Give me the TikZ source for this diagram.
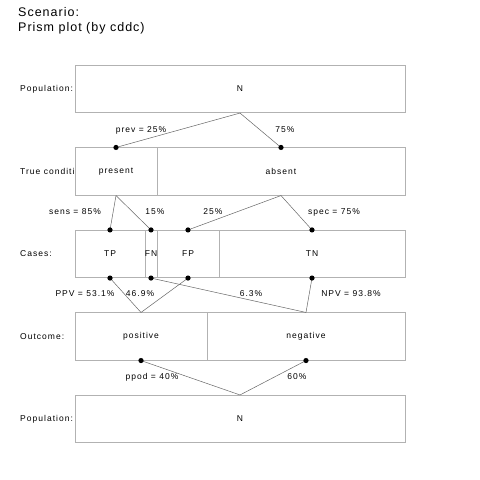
\documentclass[tikz,border=0pt]{standalone}
\usepackage{fontspec}
\newfontfamily\plotfont{Liberation Sans}[LetterSpace=12]
\newfontfamily\titlefont{Liberation Sans}[LetterSpace=8]

\tikzset{
    cell/.style={draw=gray!60, fill=white, line width=.6pt, inner sep=0pt,
        minimum height=47.5pt, font=\plotfont\fontsize{8.5}{10}\selectfont},
    rowlabel/.style={anchor=west, inner sep=0pt, font=\plotfont\fontsize{8.5}{10}\selectfont},
    prob/.style={inner sep=0pt, font=\plotfont\fontsize{8.5}{10}\selectfont},
    link/.style={gray!80!black, line width=.5pt},
    dot/.style={fill=black}
}

\begin{document}
\begin{tikzpicture}[x=1pt, y=-1pt]

    \useasboundingbox (0,0) rectangle (480,480);

    % Title
    \node[anchor=west, inner sep=0pt, font=\titlefont\fontsize{12.5}{14}\selectfont] (title1) at (18,12) {Scenario:};
    \node[anchor=west, inner sep=0pt, font=\titlefont\fontsize{12.5}{14}\selectfont] (title2) at (18,28) {Prism plot (by cddc)};

    % Row labels (drawn first, the boxes cover them)
    \node[rowlabel] (lab1) at (20,89) {Population:};
    \node[rowlabel] (lab2) at (20,171.5) {True condition:};
    \node[rowlabel] (lab3) at (20,254) {Cases:};
    \node[rowlabel] (lab4) at (20,336.5) {Outcome:};
    \node[rowlabel] (lab5) at (20,419) {Population:};

    % Population (top)
    \node[cell, minimum width=330pt] (Ntop) at (240,89) {N};

    % True condition
    \node[cell, minimum width=82pt] (present) at (116,171.5) {present};
    \node[cell, minimum width=248pt] (absent) at (281,171.5) {absent};

    % Cases
    \node[cell, minimum width=70pt] (TP) at (110,254) {TP};
    \node[cell, minimum width=12pt] (FN) at (151,254) {FN};
    \node[cell, minimum width=62pt] (FP) at (188,254) {FP};
    \node[cell, minimum width=186pt] (TN) at (312,254) {TN};

    % Outcome
    \node[cell, minimum width=132pt] (positive) at (141,336.5) {positive};
    \node[cell, minimum width=198pt] (negative) at (306,336.5) {negative};

    % Population (bottom)
    \node[cell, minimum width=330pt] (Nbot) at (240,419) {N};

    % Links
    \draw[link] (Ntop.south) -- (present.north);
    \draw[link] (Ntop.south) -- (absent.north);
    \draw[link] (present.south) -- (TP.north);
    \draw[link] (present.south) -- (FN.north);
    \draw[link] (absent.south) -- (FP.north);
    \draw[link] (absent.south) -- (TN.north);
    \draw[link] (TP.south) -- (positive.north);
    \draw[link] (FP.south) -- (positive.north);
    \draw[link] (FN.south) -- (negative.north);
    \draw[link] (TN.south) -- (negative.north);
    \draw[link] (positive.south) -- (Nbot.north);
    \draw[link] (negative.south) -- (Nbot.north);

    % Dots
    \foreach \c in {present.north, absent.north, TP.north, FN.north, FP.north, TN.north,
                    TP.south, FN.south, FP.south, TN.south, positive.south, negative.south}
        \fill[dot] (\c) circle (2.6pt);

    % Probabilities
    \node[prob] (prev) at (141,130) {prev = 25\%};
    \node[prob] (pabs) at (285,130) {75\%};
    \node[prob] (sens) at (75,212) {sens = 85\%};
    \node[prob] (fnr) at (155,212) {15\%};
    \node[prob] (fpr) at (213,212) {25\%};
    \node[prob] (spec) at (334,212) {spec = 75\%};
    \node[prob] (ppv) at (85,294) {PPV = 53.1\%};
    \node[prob] (fdr) at (140,294) {46.9\%};
    \node[prob] (for) at (251,294) {6.3\%};
    \node[prob] (npv) at (351,294) {NPV = 93.8\%};
    \node[prob] (ppod) at (152,377) {ppod = 40\%};
    \node[prob] (pneg) at (297,377) {60\%};

\end{tikzpicture}
\end{document}
